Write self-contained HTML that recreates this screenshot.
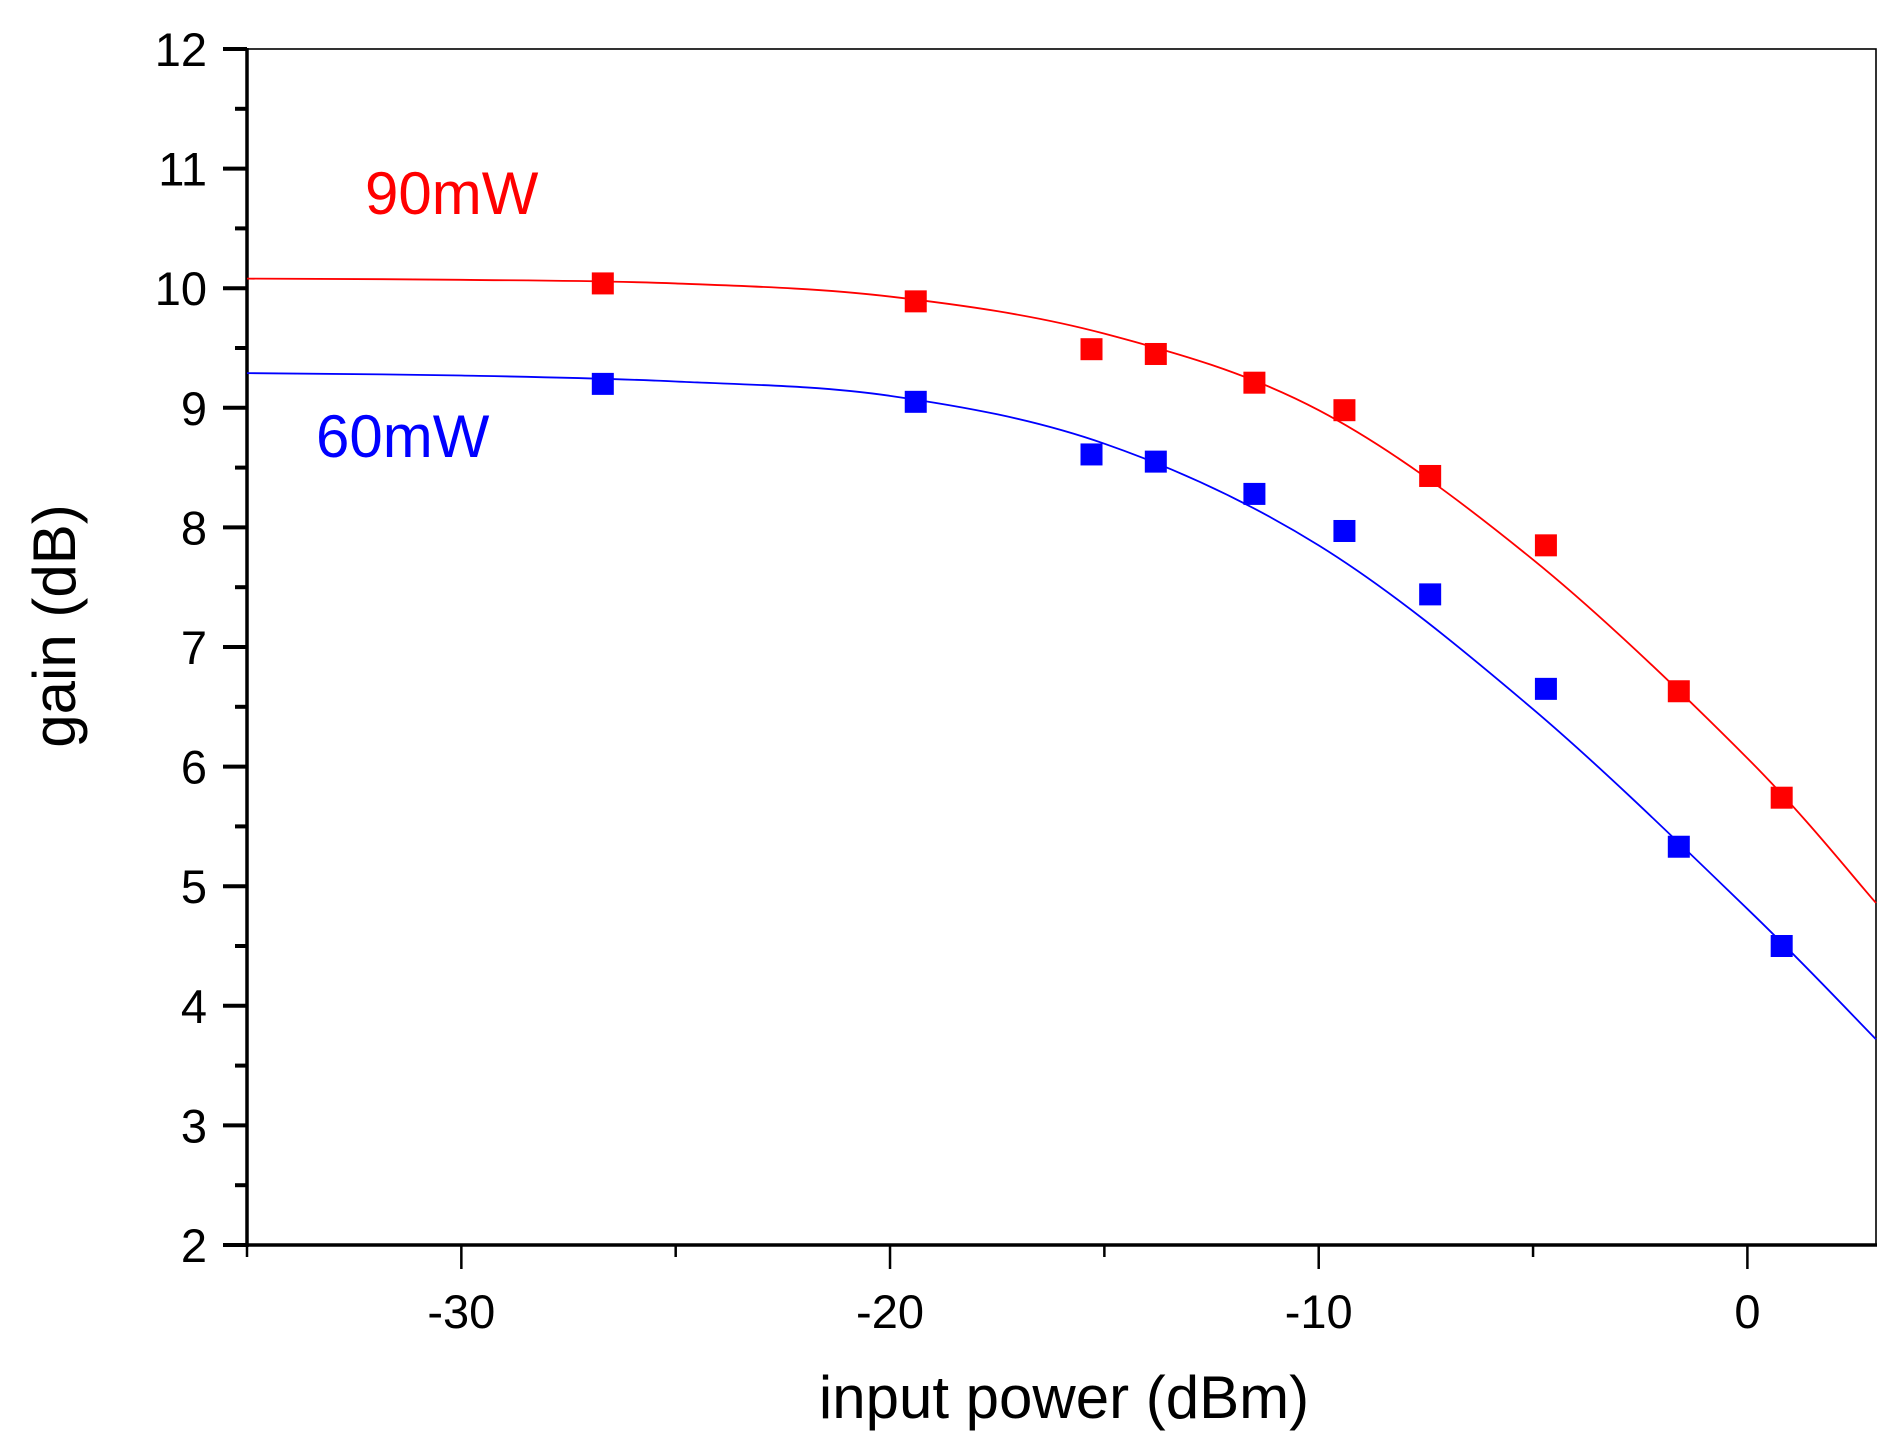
<!DOCTYPE html>
<html><head><meta charset="utf-8"><style>
html,body{margin:0;padding:0;background:#fff;}
svg{display:block;font-family:"Liberation Sans",Arial,sans-serif;}
</style></head><body>
<svg id="chart" width="1896" height="1454" viewBox="0 0 1896 1454" xmlns="http://www.w3.org/2000/svg">
<g id="axes"></g>
<g id="series"></g>
<text x="365" y="214" font-size="60" fill="#ff0000">90mW</text>
<text x="316" y="457" font-size="60" fill="#0000ff">60mW</text>
<text x="1064" y="1418" font-size="60" text-anchor="middle">input power (dBm)</text>
<text x="0" y="0" font-size="60" text-anchor="middle" transform="translate(75,626) rotate(-90)">gain (dB)</text>
</svg>
<script>
const xTicks=[-30,-20,-10,0];
const yTicks=[2,3,4,5,6,7,8,9,10,11,12];
const ptX=[-26.7,-19.4,-15.3,-13.8,-11.5,-9.4,-7.4,-4.7,-1.6,0.8];
const red90=[10.04,9.89,9.49,9.45,9.21,8.98,8.43,7.85,6.63,5.74];
const blue60=[9.20,9.05,8.61,8.55,8.28,7.97,7.44,6.65,5.33,4.50];
const fitX=[-35,-30,-25,-20,-15,-10,-5,0,3];
const fitRed=[10.08,10.07,10.04,9.93,9.62,8.98,7.73,6.07,4.86];
const fitBlue=[9.29,9.27,9.22,9.10,8.70,7.85,6.48,4.81,3.72];

const L=247,R=1876,T=49,B=1245,X0=-35,X1=3,Y0=2,Y1=12;
const sx=v=>L+(v-X0)/(X1-X0)*(R-L);
const sy=v=>B-(v-Y0)/(Y1-Y0)*(B-T);
const NS="http://www.w3.org/2000/svg";
function mk(tag,attrs,parent){const e=document.createElementNS(NS,tag);for(const k in attrs)e.setAttribute(k,attrs[k]);parent.appendChild(e);return e;}
const ax=document.getElementById('axes');
let e;
e=mk('rect',{x:L,y:T,width:R-L,height:B-T,fill:'none',stroke:'#000','stroke-width':1.6},ax);


e=mk('line',{x1:L,y1:T-1,x2:L,y2:B+2,stroke:'#000','stroke-width':3.5},ax);


e=mk('line',{x1:L-2,y1:B,x2:R+1,y2:B,stroke:'#000','stroke-width':3.5},ax);


for(let i=0;i<yTicks.length;i++){
  const v=yTicks[i],y=sy(v);
  e=mk('line',{x1:L-24,y1:y,x2:L,y2:y,stroke:'#000','stroke-width':4},ax);
  
  
  e=mk('text',{x:207,y:y+17,'font-size':47,'text-anchor':'end'},ax);e.textContent=v;
  
  
  if(i<yTicks.length-1){const ym=sy(v+0.5);
    e=mk('line',{x1:L-12,y1:ym,x2:L,y2:ym,stroke:'#000','stroke-width':4},ax);
    
    }
}
for(let v=-35;v<=3;v+=5){
  const major=xTicks.indexOf(v)>=0, x=sx(v);
  e=mk('line',{x1:x,y1:B,x2:x,y2:B+(major?24:12),stroke:'#000','stroke-width':2.5},ax);
  
  
}
for(const v of xTicks){
  e=mk('text',{x:sx(v),y:1328,'font-size':47,'text-anchor':'middle'},ax);e.textContent=v;
  
  
}
function curvePath(xs,ys){
  const p=xs.map((x,i)=>[sx(x),sy(ys[i])]);
  let d='M'+p[0][0]+','+p[0][1];
  for(let i=0;i<p.length-1;i++){
    const p0=p[Math.max(i-1,0)],p1=p[i],p2=p[i+1],p3=p[Math.min(i+2,p.length-1)];
    const c1=[p1[0]+(p2[0]-p0[0])/6,p1[1]+(p2[1]-p0[1])/6];
    const c2=[p2[0]-(p3[0]-p1[0])/6,p2[1]-(p3[1]-p1[1])/6];
    d+=' C'+c1+' '+c2+' '+p2;
  }
  return d;
}
const sg=document.getElementById('series');
const defs=[[fitRed,red90,'#ff0000','90mw'],[fitBlue,blue60,'#0000ff','60mw']];
for(const [fit,pts,col,nm] of defs){
  e=mk('path',{d:curvePath(fitX,fit),fill:'none',stroke:col,'stroke-width':1.8},sg);
  
  
  for(let i=0;i<ptX.length;i++){
    e=mk('rect',{x:sx(ptX[i])-11,y:sy(pts[i])-11,width:22,height:22,fill:col},sg);
    
    
  }
}
</script>
</body></html>
